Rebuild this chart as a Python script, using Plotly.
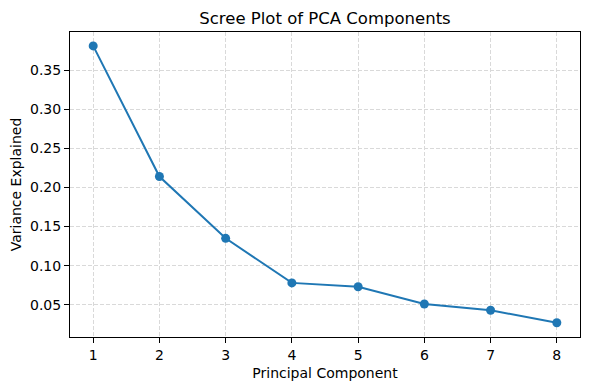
import plotly.graph_objects as go

components = [1, 2, 3, 4, 5, 6, 7, 8]
variance = [0.381, 0.214, 0.135, 0.078, 0.073, 0.051, 0.043, 0.027]
x_ticks = [1, 2, 3, 4, 5, 6, 7, 8]
y_ticks = [0.05, 0.10, 0.15, 0.20, 0.25, 0.30, 0.35]

color = "#1f77b4"
font = "DejaVu Sans"

fig = go.Figure(
    go.Scatter(
        x=components, y=variance, mode="lines+markers",
        line=dict(color=color, width=2),
        marker=dict(color=color, size=9, symbol="circle"),
    )
)

axis_common = dict(
    showline=True, linecolor="black", linewidth=1, mirror=True,
    ticks="outside", ticklen=5, tickwidth=1, tickcolor="black",
    showgrid=True, gridcolor="#d9d9d9", gridwidth=1, griddash="4px,2px",
    zeroline=False, automargin=False,
    tickfont=dict(family=font, size=14, color="black"),
)

W, H = 582, 382

fig.update_layout(
    width=W, height=H, autosize=False,
    margin=dict(l=62, r=10, t=24, b=53),
    paper_bgcolor="white", plot_bgcolor="white",
    showlegend=False,
    font=dict(family=font, color="black"),
    title=dict(text="Scree Plot of PCA Components", x=0.5, xref="paper",
               y=1 - 10 / H, yref="container", yanchor="middle", xanchor="center",
               font=dict(family=font, size=16.5, color="black"), automargin=False),
    xaxis=dict(axis_common, range=[0.65, 8.35], tickvals=x_ticks,
               ticktext=[str(v) for v in x_ticks],
               title=dict(text="Principal Component", standoff=6,
                          font=dict(family=font, size=14))),
    yaxis=dict(axis_common, range=[0.0088, 0.3988], tickvals=y_ticks,
               ticktext=[f"{v:.2f}" for v in y_ticks],
               title=dict(text="Variance Explained", standoff=8,
                          font=dict(family=font, size=14))),
)

fig.write_html("out.html")
